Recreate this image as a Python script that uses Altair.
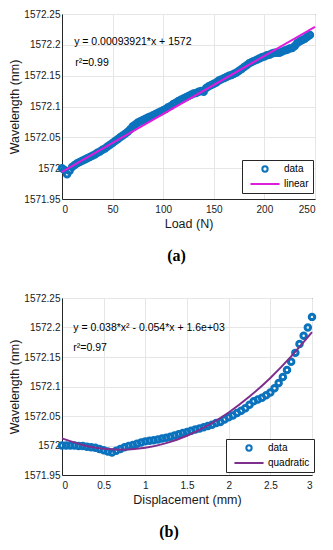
import altair as alt
import pandas as pd

# ---------------- data: panel (a) ----------------
load_n = [0, 2.5, 5, 7.5, 10, 12.5, 15, 17.5, 20, 22.5, 25, 27.5, 30, 32.5, 35, 37.5,
          40, 42.5, 45, 47.5, 50, 52.5, 55, 57.5, 60, 62.5, 65, 67.5, 70, 72.5, 75,
          77.5, 80, 82.5, 85, 87.5, 90, 92.5, 95, 97.5, 100, 102.5, 105, 107.5, 110,
          112.5, 115, 117.5, 120, 122.5, 125, 127.5, 130, 132.5, 135, 137.5, 140,
          142.5, 145, 147.5, 150, 152.5, 155, 157.5, 160, 162.5, 165, 167.5, 170,
          172.5, 175, 177.5, 180, 182.5, 185, 187.5, 190, 192.5, 195, 197.5, 200,
          202.5, 205, 207.5, 210, 212.5, 215, 217.5, 220, 222.5, 225, 227.5, 230,
          232.5, 235, 237.5, 240, 242.5, 245]
wavelength_a = [1572.000, 1571.997, 1571.990, 1571.996, 1572.002, 1572.005, 1572.008,
                1572.010, 1572.012, 1572.014, 1572.016, 1572.018, 1572.020, 1572.022,
                1572.025, 1572.027, 1572.030, 1572.032, 1572.035, 1572.038, 1572.041,
                1572.044, 1572.047, 1572.050, 1572.053, 1572.056, 1572.059, 1572.063,
                1572.068, 1572.071, 1572.074, 1572.076, 1572.078, 1572.080, 1572.082,
                1572.084, 1572.086, 1572.088, 1572.090, 1572.092, 1572.094, 1572.096,
                1572.099, 1572.101, 1572.104, 1572.106, 1572.109, 1572.111, 1572.113,
                1572.115, 1572.117, 1572.119, 1572.121, 1572.122, 1572.124, 1572.125,
                1572.124, 1572.130, 1572.133, 1572.135, 1572.137, 1572.139, 1572.142,
                1572.144, 1572.146, 1572.148, 1572.150, 1572.151, 1572.153, 1572.155,
                1572.158, 1572.161, 1572.164, 1572.167, 1572.170, 1572.172, 1572.174,
                1572.176, 1572.178, 1572.180, 1572.181, 1572.183, 1572.184, 1572.186,
                1572.187, 1572.187, 1572.187, 1572.189, 1572.191, 1572.192, 1572.194,
                1572.195, 1572.198, 1572.203, 1572.206, 1572.208, 1572.210, 1572.213,
                1572.216]
linear_x = [0, 250]
linear_y = [1571.994, 1572.229]

# ---------------- data: panel (b) ----------------
disp_mm = [0.00, 0.05, 0.10, 0.15, 0.20, 0.25, 0.30, 0.35, 0.40, 0.45, 0.50, 0.55,
           0.60, 0.65, 0.70, 0.75, 0.80, 0.85, 0.90, 0.95, 1.00, 1.05, 1.10, 1.15,
           1.20, 1.25, 1.30, 1.35, 1.40, 1.45, 1.50, 1.55, 1.60, 1.65, 1.70, 1.75,
           1.80, 1.85, 1.90, 1.95, 2.00, 2.05, 2.10, 2.15, 2.20, 2.25, 2.30, 2.35,
           2.40, 2.45, 2.50, 2.55, 2.60, 2.65, 2.70, 2.75, 2.80, 2.85, 2.90, 2.95, 3.00]
wavelength_b = [1572.000, 1572.000, 1572.000, 1572.000, 1571.999, 1571.999, 1571.998,
                1571.997, 1571.996, 1571.994, 1571.992, 1571.990, 1571.988, 1571.991,
                1571.994, 1571.997, 1571.999, 1572.001, 1572.003, 1572.005, 1572.007,
                1572.008, 1572.009, 1572.010, 1572.012, 1572.013, 1572.015, 1572.017,
                1572.019, 1572.021, 1572.023, 1572.025, 1572.027, 1572.029, 1572.031,
                1572.033, 1572.035, 1572.038, 1572.040, 1572.044, 1572.048, 1572.051,
                1572.055, 1572.059, 1572.063, 1572.069, 1572.075, 1572.078, 1572.081,
                1572.085, 1572.090, 1572.097, 1572.106, 1572.116, 1572.128, 1572.142,
                1572.157, 1572.172, 1572.186, 1572.200, 1572.218]
quad_x = [0, 0.25, 0.5, 0.75, 1.0, 1.25, 1.5, 1.75, 2.0, 2.25, 2.5, 2.75, 3.0]
quad_y = [1572.012, 1572.001, 1571.9945, 1571.993, 1571.996, 1572.004, 1572.0165,
          1572.034, 1572.056, 1572.083, 1572.1145, 1572.151, 1572.192]

y_ticks = [1571.95, 1572.0, 1572.05, 1572.1, 1572.15, 1572.2, 1572.25]
xa_ticks = [0, 50, 100, 150, 200, 250]
xb_ticks = [0, 0.5, 1, 1.5, 2, 2.5, 3]
series_a = ["data", "linear"]
series_b = ["data", "quadratic"]
eq_a = ["y = 0.00093921*x + 1572", "r²=0.99"]
eq_b = ["y = 0.038*x² - 0.054*x + 1.6e+03", "r²=0.97"]

BLUE = "#0B72BD"
MAGENTA = "#DC1EDC"
PURPLE = "#7E2F8E"
FONT = "Liberation Sans"
LINE_SYMBOL = "M-5.5,0L5.5,0"


def panel(xs, ys, fx, fy, ann, ann_x, ann_y, series, line_color, xticks, xdom,
          xtitle, width, height, leg_x, leg_y, caption, cap_dx):
    pts = pd.DataFrame({"x": xs, "y": ys, "s": series[0]})
    fit = pd.DataFrame({"x": fx, "y": fy})
    txt = pd.DataFrame({"x": ann_x, "y": ann_y, "t": ann})
    xsc = alt.Scale(domain=xdom, nice=False, zero=False)
    ysc = alt.Scale(domain=[1571.95, 1572.25], nice=False, zero=False)
    xaxis = alt.Axis(values=xticks, format="~r", title=xtitle, labelPadding=5,
                     titlePadding=3, labelOverlap=False)
    yaxis = alt.Axis(values=y_ticks, format=".6~r", title="Wavelength (nm)",
                     labelPadding=2, titlePadding=2, labelOverlap=False)
    X = alt.X("x:Q", scale=xsc, axis=xaxis)
    Y = alt.Y("y:Q", scale=ysc, axis=yaxis)
    p = alt.Chart(pts).mark_point(filled=False, size=30, strokeWidth=3, opacity=1).encode(
        x=X, y=Y,
        color=alt.Color("s:N", scale=alt.Scale(domain=series, range=[BLUE, line_color]),
                        legend=alt.Legend(orient="none", legendX=leg_x, legendY=leg_y,
                                          title=None, strokeColor="#262626",
                                          fillColor="white", padding=4,
                                          labelFont=FONT, labelFontSize=10,
                                          labelColor="black", symbolSize=28,
                                          symbolStrokeWidth=2, labelOffset=14,
                                          rowPadding=3, symbolOffset=14)),
        shape=alt.Shape("s:N", scale=alt.Scale(domain=series, range=["circle", LINE_SYMBOL]),
                        legend=None),
    )
    ln = alt.Chart(fit).mark_line(color=line_color, strokeWidth=2,
                                  interpolate="monotone").encode(x=X, y=Y)
    tx = alt.Chart(txt).mark_text(align="left", baseline="middle", font=FONT,
                                  fontSize=10.5, color="black").encode(
        x=X, y=Y, text="t:N")
    return alt.layer(p, ln, tx).properties(
        width=width, height=height,
        title=alt.TitleParams(caption, orient="bottom", anchor="middle", dx=cap_dx,
                              font="Liberation Serif", fontSize=16, fontWeight="bold",
                              offset=18, color="black"))


chart_a = panel(load_n, wavelength_a, linear_x, linear_y, eq_a, [12, 13],
                [1572.205, 1572.170], series_a, MAGENTA, xa_ticks, [0, 250],
                "Load (N)", 253, 185, 180, 146, "(a)", -12)
chart_b = panel(disp_mm, wavelength_b, quad_x, quad_y, eq_b, [0.135, 0.135],
                [1572.200, 1572.165], series_b, PURPLE, xb_ticks, [0, 3],
                "Displacement (mm)", 250, 177, 164, 141, "(b)", -18)

chart = alt.vconcat(chart_a, chart_b, spacing=28).resolve_scale(
    color="independent", shape="independent").properties(
    padding={"left": 0, "top": 0, "right": 0, "bottom": 0}
).configure_view(stroke="#262626", strokeWidth=1).configure_axis(
    labelFont=FONT, labelFontSize=10, labelColor="#1a1a1a",
    titleFont=FONT, titleFontSize=12.5, titleFontWeight="normal", titleColor="#1a1a1a",
    domainColor="#262626", ticks=False, gridColor="#e6e6e6", gridWidth=1,
).configure_title(font="Liberation Serif")

chart.save("out.html", embed_options={"renderer": "svg", "actions": False})
